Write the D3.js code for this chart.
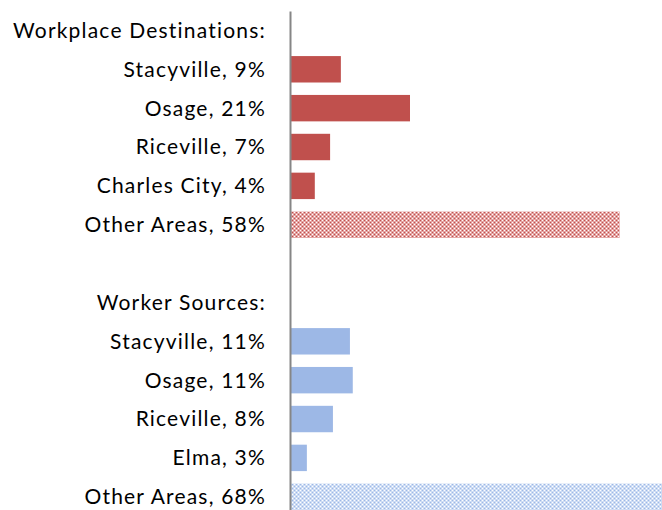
<!DOCTYPE html>
<html>
<head>
<meta charset="utf-8">
<script src="https://cdn.jsdelivr.net/npm/d3@7"></script>
<style>
  body { margin: 0; background: #fff; }
</style>
</head>
<body>
<div id="chart"></div>
<script>
// row labels, top to bottom (headers and a blank spacer row have no bar)
const rowLabels = [
    "Workplace Destinations:",
    "Stacyville, 9%",
    "Osage, 21%",
    "Riceville, 7%",
    "Charles City, 4%",
    "Other Areas, 58%",
    "",
    "Worker Sources:",
    "Stacyville, 11%",
    "Osage, 11%",
    "Riceville, 8%",
    "Elma, 3%",
    "Other Areas, 68%"
]
// share of workers (%) for each row, null where there is no bar
const rowValues = [null, 8.8, 21, 6.9, 4.2, 58, null, null, 10.4, 10.9, 7.4, 2.8, 68]
// which series each row belongs to
const rowGroup = [null, "dest", "dest", "dest", "dest", "dest", null, null, "src", "src", "src", "src", "src"]
// the "Other Areas" rows are drawn with a pattern
const rowOther = [false, false, false, false, false, true, false, false, false, false, false, false, true]

const width = 662
const height = 510
const margin = {top: 11, left: 291}

const svg = d3.select("#chart")
    .append("svg")
    .attr("width", width)
    .attr("height", height)

// checkered fills for the "other areas" bars
const defs = svg.append("defs")
const makePattern = (id, light, dark) => {
    const p = defs.append("pattern")
        .attr("id", id)
        .attr("patternUnits", "userSpaceOnUse")
        .attr("width", 4)
        .attr("height", 4)
    p.append("rect").attr("width", 4).attr("height", 4).attr("fill", light)
    p.append("rect").attr("x", 0).attr("y", 0).attr("width", 1).attr("height", 1).attr("fill", dark)
    p.append("rect").attr("x", 2).attr("y", 2).attr("width", 1).attr("height", 1).attr("fill", dark)
    p.append("rect").attr("x", 2).attr("y", 0).attr("width", 1).attr("height", 1).attr("fill", "#fff")
    p.append("rect").attr("x", 0).attr("y", 2).attr("width", 1).attr("height", 1).attr("fill", "#fff")
}
makePattern("destOther", "#e4a3a2", "#c0504d")
makePattern("srcOther", "#cddcf4", "#9db8e6")

const colors = {dest: "#c0504d", src: "#9db8e6"}

// y band for each row
const y = d3.scaleBand()
    .domain(d3.range(rowLabels.length))
    .range([margin.top, margin.top + 38.86 * rowLabels.length])
    .paddingInner(0.32)
    .paddingOuter(0.16)

// x scale, clipped at the right edge of the picture
const x = d3.scaleLinear()
    .domain([0, 60])
    .range([margin.left, margin.left + 340])

svg.append("clipPath").attr("id", "plotClip")
    .append("rect").attr("x", 0).attr("y", 0).attr("width", width).attr("height", height)

// bars
svg.append("g")
    .attr("clip-path", "url(#plotClip)")
    .selectAll("rect")
    .data(d3.range(rowLabels.length).filter(i => rowValues[i] !== null))
    .join("rect")
    .attr("x", x(0))
    .attr("y", i => y(i))
    .attr("width", i => x(rowValues[i]) - x(0))
    .attr("height", y.bandwidth())
    .attr("fill", i => rowOther[i] ? `url(#${rowGroup[i]}Other)` : colors[rowGroup[i]])

// vertical axis line, no ticks
const yAxis = svg.append("g")
    .attr("transform", `translate(${margin.left - 1},0)`)
    .call(d3.axisLeft(y).tickSize(0).tickFormat(i => rowLabels[i]))
yAxis.select(".domain")
    .attr("stroke", "#868686")
    .attr("stroke-width", 2)
yAxis.selectAll(".tick text")
    .attr("x", -24)
    .attr("dy", "0.35em")
    .attr("fill", "#000")
    .style("font-size", "21px")
    .style("letter-spacing", "1.2px")
    .style("font-family", "Lato, sans-serif")
</script>
</body>
</html>
